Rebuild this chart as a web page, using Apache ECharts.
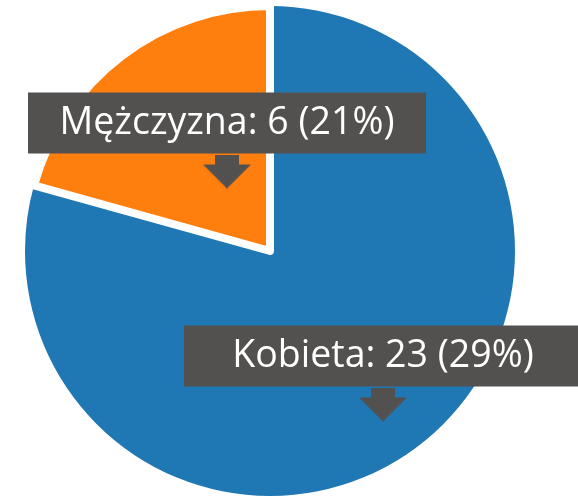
<!DOCTYPE html>
<html>
<head>
<meta charset="utf-8">
<script src="https://cdn.jsdelivr.net/npm/echarts@6/dist/echarts.min.js"></script>
<style>
html,body{margin:0;padding:0;background:#fff;}
#c{width:578px;height:499px;}
</style>
</head>
<body>
<div id="c"></div>
<script>
// Data
const categories = ['Kobieta', 'Mężczyzna'];
const values = [23, 6];
const percentLabels = ['29%', '21%'];
const colors = ['#1f77b4', '#ff7f0e'];

// Arrow image drawn on a canvas (label decoration)
function makeArrow(w, h, stemW, stemH, color) {
  const cv = document.createElement('canvas');
  cv.width = w; cv.height = h;
  const ctx = cv.getContext('2d');
  ctx.fillStyle = color;
  ctx.fillRect((w - stemW) / 2, 0, stemW, stemH + 1);
  ctx.beginPath();
  ctx.moveTo(0, stemH);
  ctx.lineTo(w, stemH);
  ctx.lineTo(w / 2, h);
  ctx.closePath();
  ctx.fill();
  return cv;
}
const boxColor = '#53514f';
const arrowImg = makeArrow(48, 34, 24, 10, boxColor);

const labelShift = [[113, 122], [-43, -111]];

const data = categories.map((name, i) => ({
  name: name,
  value: values[i],
  itemStyle: i === 1
    ? { color: colors[i], borderColor: '#fff', borderWidth: 8, borderJoin: 'round' }
    : { color: colors[i], borderWidth: 0 }
}));

const chart = echarts.init(document.getElementById('c'), null, { renderer: 'canvas' });
chart.setOption({
  animation: false,
  series: [{
    type: 'pie',
    center: [270, 251],
    radius: [0, 245],
    startAngle: 90,
    clockwise: true,
    data: data,
    label: {
      show: true,
      position: 'center',
      formatter: p => '{box|' + p.name + ': ' + p.value + ' (' + percentLabels[p.dataIndex] + ')}\n{arrow| }',
      rich: {
        box: {
          backgroundColor: boxColor,
          color: '#ffffff',
          fontFamily: 'Open Sans',
          fontSize: 37.5,
          width: 398,
          height: 61,
          lineHeight: 63,
          align: 'center'
        },
        arrow: {
          backgroundColor: { image: arrowImg },
          width: 48,
          height: 34,
          lineHeight: 34,
          fontSize: 1,
          align: 'center'
        }
      }
    },
    labelLine: { show: false },
    labelLayout: p => ({ dx: labelShift[p.dataIndex][0], dy: labelShift[p.dataIndex][1] }),
    emphasis: { disabled: true }
  }]
});
</script>
</body>
</html>
